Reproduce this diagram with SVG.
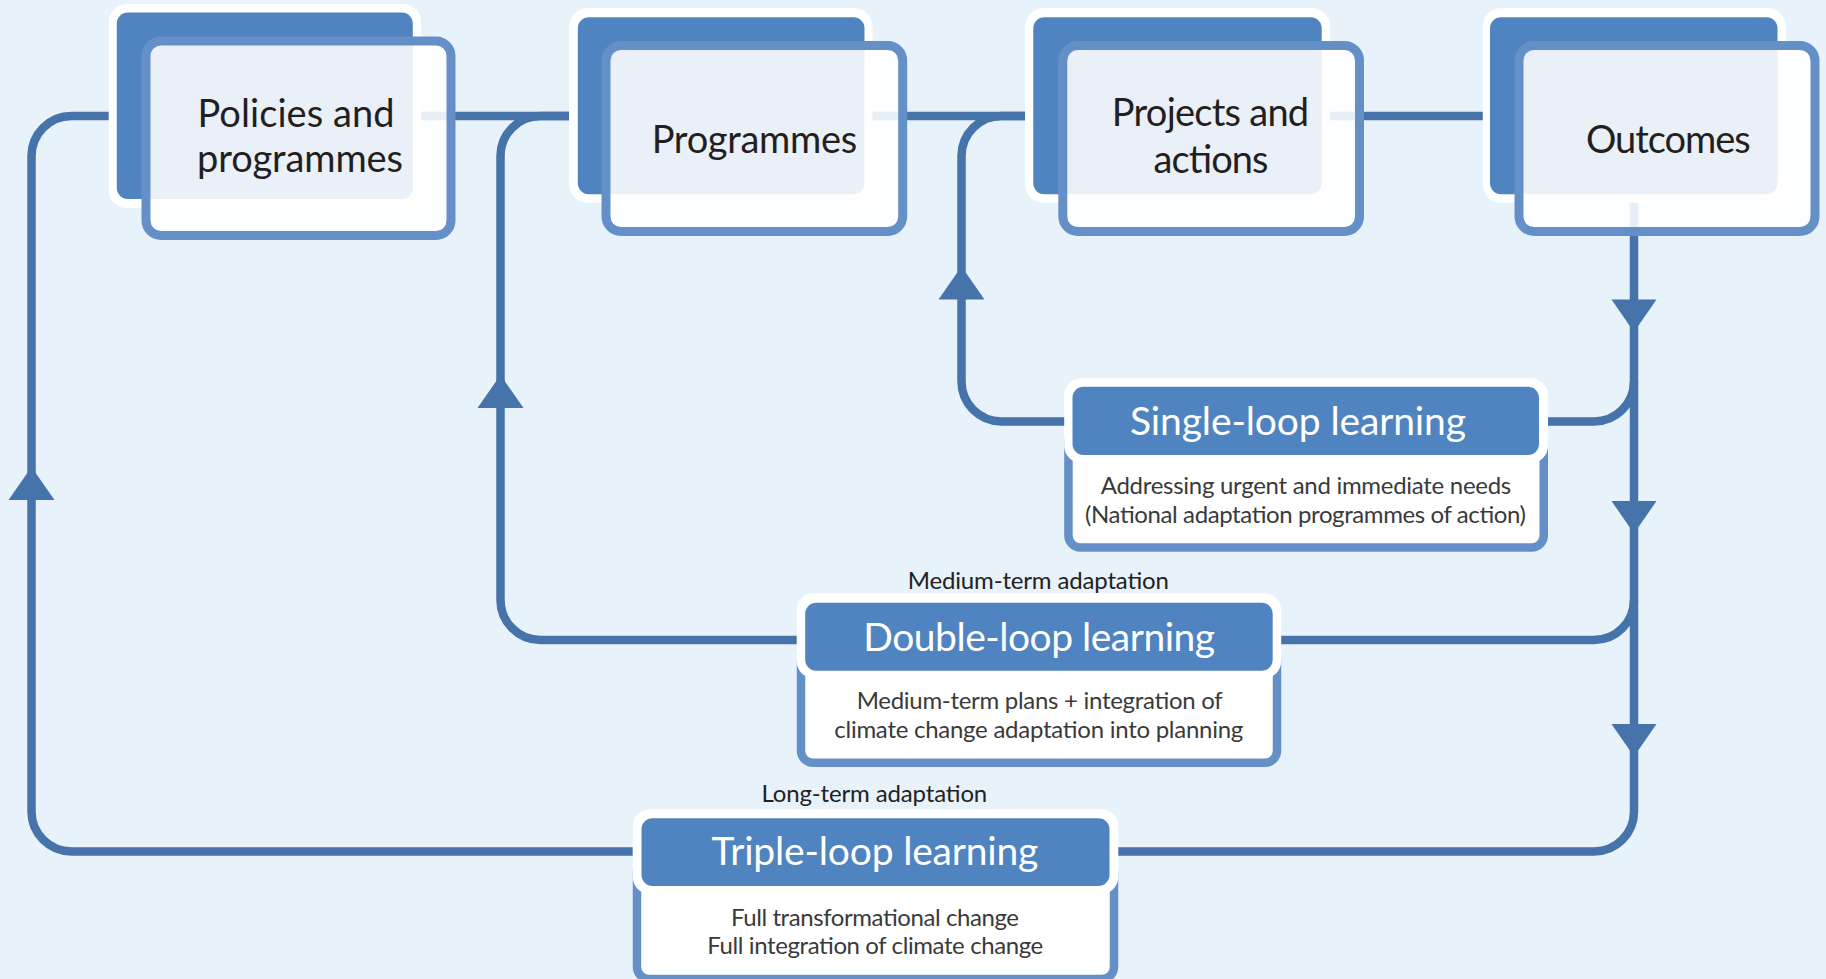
<svg xmlns="http://www.w3.org/2000/svg" width="1826" height="979" viewBox="0 0 1826 979">
<style>
.bg{fill:#e8f2fb}
.con{fill:none;stroke:#4673a9;stroke-width:8.5}
.arr{fill:#4673a9}
.bo{fill:#ffffff}
.bd{fill:#5084c1}
.fr{fill:#ffffff;fill-opacity:0.88;stroke:#6590c7;stroke-width:9}
.t{font-family:Lato,"Open Sans","Liberation Sans",sans-serif;text-anchor:middle}
.title{font-size:38px;fill:#231f20}
.hd{font-size:39px;fill:#ffffff}
.ds{font-size:24px;fill:#3a3a3a}
.lb{font-size:24px;fill:#222222}
.lo{fill:#ffffff;stroke:#6590c7;stroke-width:8.5}
.ho{fill:#ffffff}
.hb{fill:#5084c1}
</style>
<defs>
<path id="up" d="M0,0 L23,33 L-23,33 Z"/>
<path id="down" d="M0,0 L22.5,-32.5 L-22.5,-32.5 Z"/>
</defs>
<rect class="bg" x="0" y="0" width="1826" height="979"/>
<g id="connectors">
<path class="con" d="M410 116 H1495"/>
<path class="con" d="M1075 421.5 H1001.5 A40 40 0 0 1 961.5 381.5 V156 A40 40 0 0 1 1001.5 116 H1040"/>
<path class="con" d="M805 640 H540.5 A40 40 0 0 1 500.5 600 V156 A40 40 0 0 1 540.5 116 H585"/>
<path class="con" d="M645 851.5 H71.5 A40 40 0 0 1 31.5 811.5 V156 A40 40 0 0 1 71.5 116 H120"/>
<path class="con" d="M1634 190 V811.5 A40 40 0 0 1 1594 851.5 H1110"/>
<path class="con" d="M1634 381.5 A40 40 0 0 1 1594 421.5 H1540"/>
<path class="con" d="M1634 600 A40 40 0 0 1 1594 640 H1275"/>
<use href="#up" class="arr" x="31.5" y="467"/>
<use href="#up" class="arr" x="500.5" y="375"/>
<use href="#up" class="arr" x="961.5" y="266.5"/>
<use href="#down" class="arr" x="1634" y="332"/>
<use href="#down" class="arr" x="1634" y="533.5"/>
<use href="#down" class="arr" x="1634" y="756.5"/>
</g>
<g id="policies">
<rect class="bo" x="108.7" y="4" width="312.4" height="204" rx="18"/>
<rect class="bd" x="116.8" y="12.5" width="296" height="186.5" rx="11"/>
<rect class="fr" x="146" y="41" width="305" height="194.5" rx="15"/>
<text class="t title" x="296" y="127" textLength="197">Policies and</text>
<text class="t title" x="300" y="172" textLength="206">programmes</text>
</g>
<g id="programmes">
<rect class="bo" x="569" y="8.3" width="303.5" height="194.4" rx="18"/>
<rect class="bd" x="577.8" y="17.3" width="286.7" height="177" rx="11"/>
<rect class="fr" x="606" y="45.5" width="296.7" height="186" rx="15"/>
<text class="t title" x="754.5" y="153" textLength="205.6">Programmes</text>
</g>
<g id="projects">
<rect class="bo" x="1025" y="8.3" width="305" height="194.4" rx="18"/>
<rect class="bd" x="1033.3" y="17.3" width="288.4" height="177" rx="11"/>
<rect class="fr" x="1062.8" y="45.5" width="296.7" height="186" rx="15"/>
<text class="t title" x="1210.5" y="126" textLength="197.3">Projects and</text>
<text class="t title" x="1211" y="172.5" textLength="115">actions</text>
</g>
<g id="outcomes">
<rect class="bo" x="1482.8" y="8.3" width="303" height="194.4" rx="18"/>
<rect class="bd" x="1490" y="17.3" width="287.5" height="177" rx="11"/>
<rect class="fr" x="1519" y="45.5" width="296" height="186" rx="15"/>
<text class="t title" x="1668.3" y="153" textLength="164.8">Outcomes</text>
</g>
<g id="single-loop">
<rect class="lo" x="1068.45" y="430" width="475.3" height="117.5" rx="12"/>
<rect class="ho" x="1064.2" y="378.3" width="483.8" height="84.7" rx="17"/>
<rect class="hb" x="1072.5" y="386.7" width="466.5" height="68.3" rx="11"/>
<text class="t hd" x="1298" y="435" textLength="336">Single-loop learning</text>
<text class="t ds" x="1306" y="494" textLength="410.5">Addressing urgent and immediate needs</text>
<text class="t ds" x="1305.5" y="523" textLength="441">(National adaptation programmes of action)</text>
</g>
<g id="double-loop">
<text class="t lb" x="1038.3" y="589.3" textLength="261.3">Medium-term adaptation</text>
<rect class="lo" x="801" y="650" width="476" height="112.8" rx="12"/>
<rect class="ho" x="796.7" y="593.3" width="484.5" height="85" rx="17"/>
<rect class="hb" x="805.2" y="602.7" width="467.5" height="68" rx="11"/>
<text class="t hd" x="1039.2" y="650.7" textLength="351.7">Double-loop learning</text>
<text class="t ds" x="1039.7" y="709.3" textLength="366">Medium-term plans + integration of</text>
<text class="t ds" x="1038.8" y="738.3" textLength="409">climate change adaptation into planning</text>
</g>
<g id="triple-loop">
<text class="t lb" x="874.4" y="802" textLength="225.7">Long-term adaptation</text>
<rect class="lo" x="637" y="860" width="477" height="119" rx="12"/>
<rect class="ho" x="632.7" y="809.3" width="485.6" height="84.7" rx="17"/>
<rect class="hb" x="641.5" y="818.3" width="468" height="67.7" rx="11"/>
<text class="t hd" x="875" y="865" textLength="326.8">Triple-loop learning</text>
<text class="t ds" x="875" y="926" textLength="288">Full transformational change</text>
<text class="t ds" x="875.3" y="954" textLength="336">Full integration of climate change</text>
</g>
</svg>
